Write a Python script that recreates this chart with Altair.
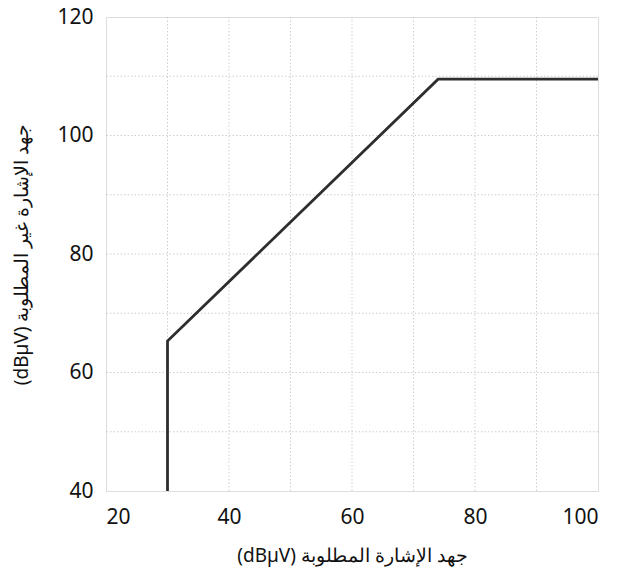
import altair as alt
import pandas as pd

# data
x_vals = [30, 30, 74, 100]
y_vals = [40, 65.3, 109.5, 109.5]
order = [0, 1, 2, 3]

df = pd.DataFrame({"x": x_vals, "y": y_vals, "o": order})

x_title = "(dBµV) جهد الإشارة المطلوبة"
y_title = "(dBµV) جهد الإشارة غير المطلوبة"

FONT = "Noto Sans"

line = alt.Chart(df).mark_line(color="#2e2e2e", strokeWidth=2.8, clip=True).encode(
    x=alt.X("x:Q", scale=alt.Scale(domain=[20, 100], nice=False, zero=False),
            axis=alt.Axis(title=x_title, values=[20, 40, 60, 80, 100],
                          grid=False, ticks=False, domain=False,
                          labelFontSize=21, labelPadding=15, labelColor="#111",
                          labelFont=FONT, titleFont=FONT, titleFontSize=19,
                          titleFontWeight="normal", titleColor="#111", titlePadding=19)),
    y=alt.Y("y:Q", scale=alt.Scale(domain=[40, 120], nice=False, zero=False),
            axis=alt.Axis(title=y_title, values=[40, 60, 80, 100, 120],
                          grid=False, ticks=False, domain=False,
                          labelFontSize=21, labelPadding=13, labelColor="#111",
                          labelFont=FONT, titleFont=FONT, titleFontSize=19,
                          titleFontWeight="normal", titleColor="#111", titlePadding=25)),
    order="o:Q",
)

grid_x = alt.Chart(pd.DataFrame({"g": list(range(30, 100, 10))})).mark_rule(
    color="#cfcfcf", strokeDash=[1.5, 2], strokeWidth=1).encode(x="g:Q")
grid_y = alt.Chart(pd.DataFrame({"g": list(range(50, 120, 10))})).mark_rule(
    color="#cfcfcf", strokeDash=[1.5, 2], strokeWidth=1).encode(y="g:Q")

chart = alt.layer(grid_x, grid_y, line).properties(
    width=492, height=474,
    autosize=alt.AutoSizeParams(type="none"),
    padding={"left": 98, "top": 9, "right": 11, "bottom": 90},
).configure_view(stroke="#555555", strokeWidth=1.6).configure(background="white")

chart.save("out.html", embed_options={"renderer": "svg", "actions": False})
